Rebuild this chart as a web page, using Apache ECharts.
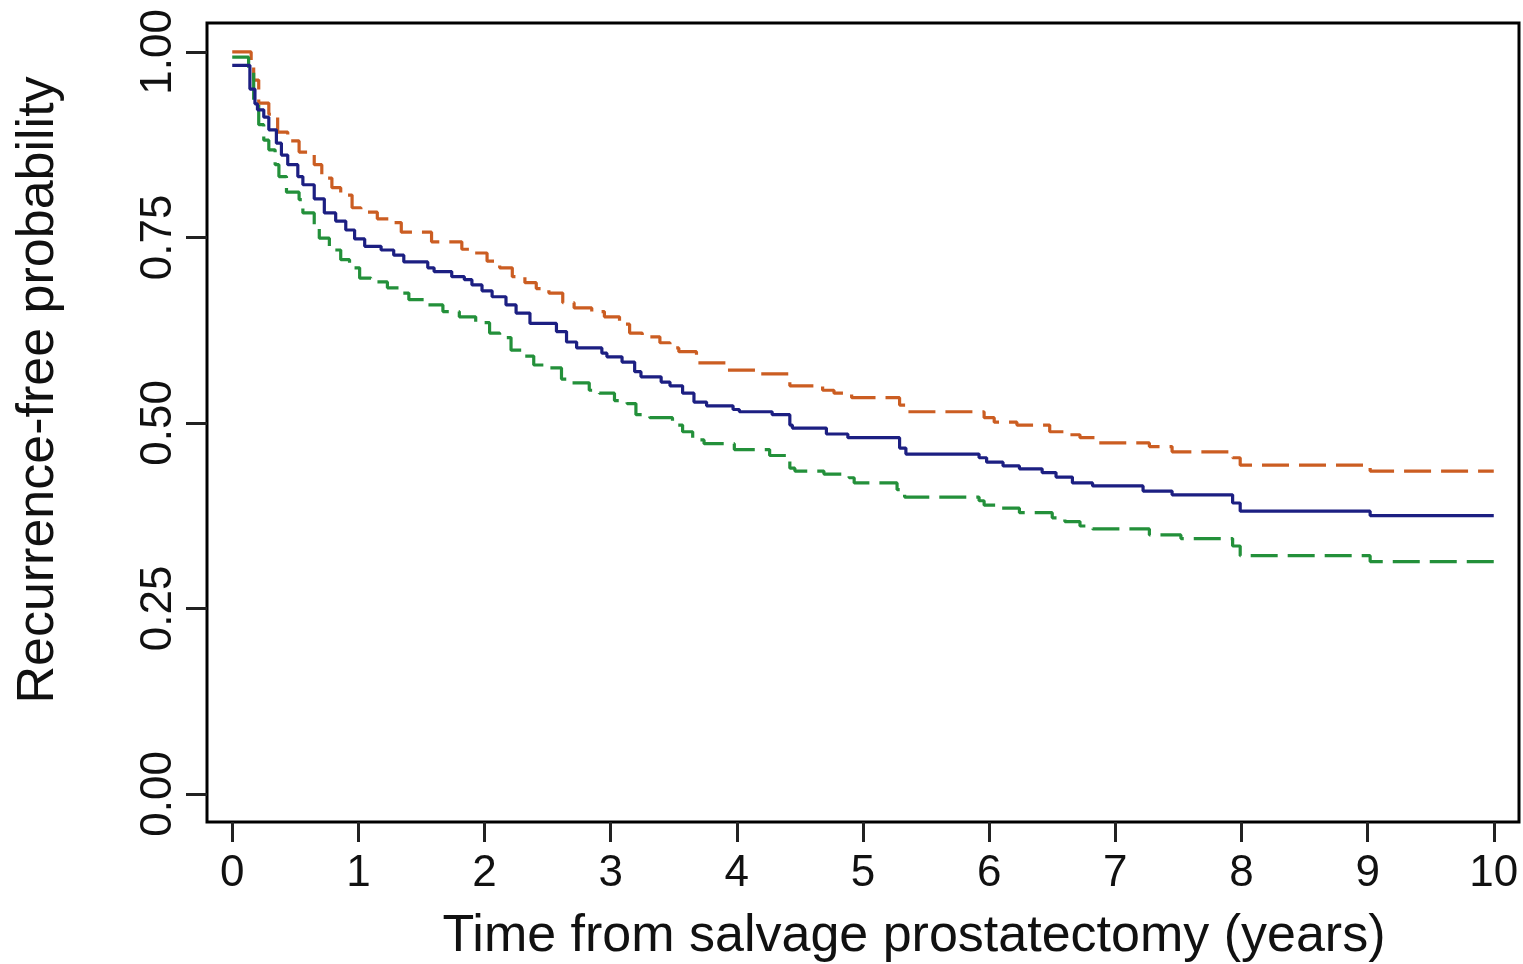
<!DOCTYPE html>
<html>
<head>
<meta charset="utf-8">
<script src="https://cdn.jsdelivr.net/npm/echarts@6/dist/echarts.min.js"></script>
<style>
html,body{margin:0;padding:0;background:#fff;}
#chart{width:1523px;height:964px;}
</style>
</head>
<body>
<div id="chart"></div>
<script>
// Kaplan-Meier estimate (solid) and its confidence bounds (dashed): [years, probability]
const estimate = [
  [0,0.982],[0.14,0.95],[0.18,0.93],[0.20,0.922],[0.25,0.912],[0.29,0.895],[0.35,0.877],
  [0.39,0.861],[0.44,0.848],[0.52,0.832],[0.56,0.821],[0.65,0.802],[0.73,0.783],[0.82,0.772],
  [0.90,0.760],[0.97,0.748],[1.05,0.738],[1.18,0.733],[1.28,0.726],[1.36,0.717],[1.55,0.709],
  [1.60,0.704],[1.74,0.697],[1.84,0.693],[1.90,0.686],[1.98,0.678],[2.06,0.670],[2.17,0.659],
  [2.25,0.648],[2.36,0.634],[2.57,0.623],[2.65,0.609],[2.73,0.601],[2.93,0.594],[2.97,0.589],
  [3.09,0.582],[3.19,0.569],[3.24,0.562],[3.40,0.555],[3.47,0.550],[3.57,0.540],[3.66,0.528],
  [3.76,0.523],[3.97,0.518],[4.02,0.515],[4.28,0.511],[4.42,0.497],[4.44,0.493],[4.71,0.485],
  [4.88,0.480],[5.29,0.466],[5.34,0.458],[5.92,0.453],[5.98,0.447],[6.11,0.442],[6.24,0.438],
  [6.42,0.433],[6.53,0.427],[6.66,0.419],[6.82,0.415],[7.22,0.408],[7.45,0.403],[7.93,0.392],
  [7.99,0.381],[9.02,0.375],[10.0,0.375]
];
const upperBound = [
  [0,1.0],[0.15,0.989],[0.17,0.962],[0.21,0.931],[0.29,0.916],[0.36,0.892],[0.44,0.880],
  [0.53,0.865],[0.65,0.848],[0.71,0.830],[0.79,0.817],[0.86,0.807],[0.95,0.790],[1.02,0.784],
  [1.15,0.775],[1.25,0.770],[1.34,0.757],[1.58,0.744],[1.82,0.734],[1.92,0.729],[2.02,0.718],
  [2.12,0.709],[2.22,0.697],[2.32,0.689],[2.41,0.681],[2.51,0.675],[2.62,0.662],[2.71,0.655],
  [2.85,0.650],[2.95,0.643],[3.07,0.633],[3.15,0.621],[3.25,0.616],[3.39,0.608],[3.47,0.601],
  [3.54,0.596],[3.68,0.581],[3.92,0.571],[4.18,0.566],[4.42,0.550],[4.68,0.544],[4.77,0.540],
  [4.91,0.534],[5.29,0.524],[5.34,0.515],[5.96,0.507],[6.04,0.501],[6.22,0.497],[6.48,0.488],
  [6.60,0.484],[6.72,0.480],[6.84,0.473],[7.27,0.468],[7.45,0.461],[7.93,0.453],[7.99,0.443],
  [9.02,0.435],[10.0,0.435]
];
const lowerBound = [
  [0,0.993],[0.13,0.976],[0.17,0.935],[0.21,0.902],[0.25,0.881],[0.29,0.868],[0.34,0.848],
  [0.37,0.832],[0.43,0.811],[0.53,0.801],[0.56,0.783],[0.65,0.767],[0.69,0.749],[0.77,0.733],
  [0.86,0.720],[0.93,0.709],[1.01,0.695],[1.10,0.690],[1.23,0.682],[1.32,0.675],[1.40,0.666],
  [1.54,0.659],[1.67,0.650],[1.80,0.643],[1.93,0.635],[2.04,0.621],[2.12,0.615],[2.21,0.598],
  [2.30,0.590],[2.39,0.578],[2.51,0.574],[2.61,0.559],[2.69,0.554],[2.83,0.544],[2.91,0.540],
  [3.03,0.530],[3.13,0.526],[3.20,0.511],[3.31,0.507],[3.49,0.497],[3.57,0.488],[3.65,0.477],
  [3.74,0.472],[3.98,0.464],[4.26,0.456],[4.42,0.439],[4.46,0.435],[4.69,0.431],[4.89,0.426],
  [4.93,0.419],[5.27,0.410],[5.33,0.400],[5.92,0.395],[5.96,0.389],[6.10,0.385],[6.24,0.379],
  [6.50,0.372],[6.60,0.367],[6.72,0.361],[6.82,0.357],[7.27,0.349],[7.52,0.344],[7.93,0.334],
  [7.99,0.321],[9.02,0.313],[10.0,0.313]
];
const xTicks = [0,1,2,3,4,5,6,7,8,9,10];
const yTicks = [0,0.25,0.5,0.75,1];
const xTitle = 'Time from salvage prostatectomy (years)';
const yTitle = 'Recurrence-free probability';

const chart = echarts.init(document.getElementById('chart'), null, {renderer:'canvas'});
const font = '"Liberation Sans", Arial, sans-serif';
chart.setOption({
  animation: false,
  backgroundColor: '#ffffff',
  grid: {
    left: 207, right: 4, top: 23, bottom: 142,
    show: true, borderColor: '#000', borderWidth: 3, backgroundColor: 'transparent'
  },
  xAxis: {
    type: 'value', min: -0.2, max: 10.2,
    splitLine: {show:false},
    axisLine: {show:false, onZero:false},
    axisTick: {show:true, inside:false, length:20, customValues: xTicks,
      lineStyle:{color:'#222', width:3}},
    axisLabel: {show:true, customValues: xTicks, margin: 30,
      fontFamily: font, fontSize: 44, color:'#111'}
  },
  yAxis: {
    type: 'value', min: -0.038, max: 1.039,
    splitLine: {show:false},
    axisLine: {show:false, onZero:false},
    axisTick: {show:true, inside:false, length:21, customValues: yTicks,
      lineStyle:{color:'#222', width:3}},
    axisLabel: {show:true, customValues: yTicks, rotate: 90, margin: 26,
      fontFamily: font, fontSize: 44, color:'#111',
      formatter: v => v.toFixed(2)}
  },
  graphic: [
    {type:'text', x: 914, y: 911,
      style:{text: xTitle, fontFamily: font, fontSize: 52, fill:'#111', align:'center', verticalAlign:'top'}},
    {type:'text', x: 13, y: 390, rotation: Math.PI/2,
      style:{text: yTitle, fontFamily: font, fontSize: 52, fill:'#111',
        align:'center', verticalAlign:'top'}}
  ],
  series: [
    {type:'line', name:'upper', data: upperBound, step:'end', showSymbol:false,
      lineStyle:{color:'#cb5d22', width:3.2, type:[27,10]}, silent:true},
    {type:'line', name:'lower', data: lowerBound, step:'end', showSymbol:false,
      lineStyle:{color:'#23903a', width:3.2, type:[27,10]}, silent:true},
    {type:'line', name:'estimate', data: estimate, step:'end', showSymbol:false,
      lineStyle:{color:'#1c1f82', width:3.2}, silent:true}
  ]
});
</script>
</body>
</html>
